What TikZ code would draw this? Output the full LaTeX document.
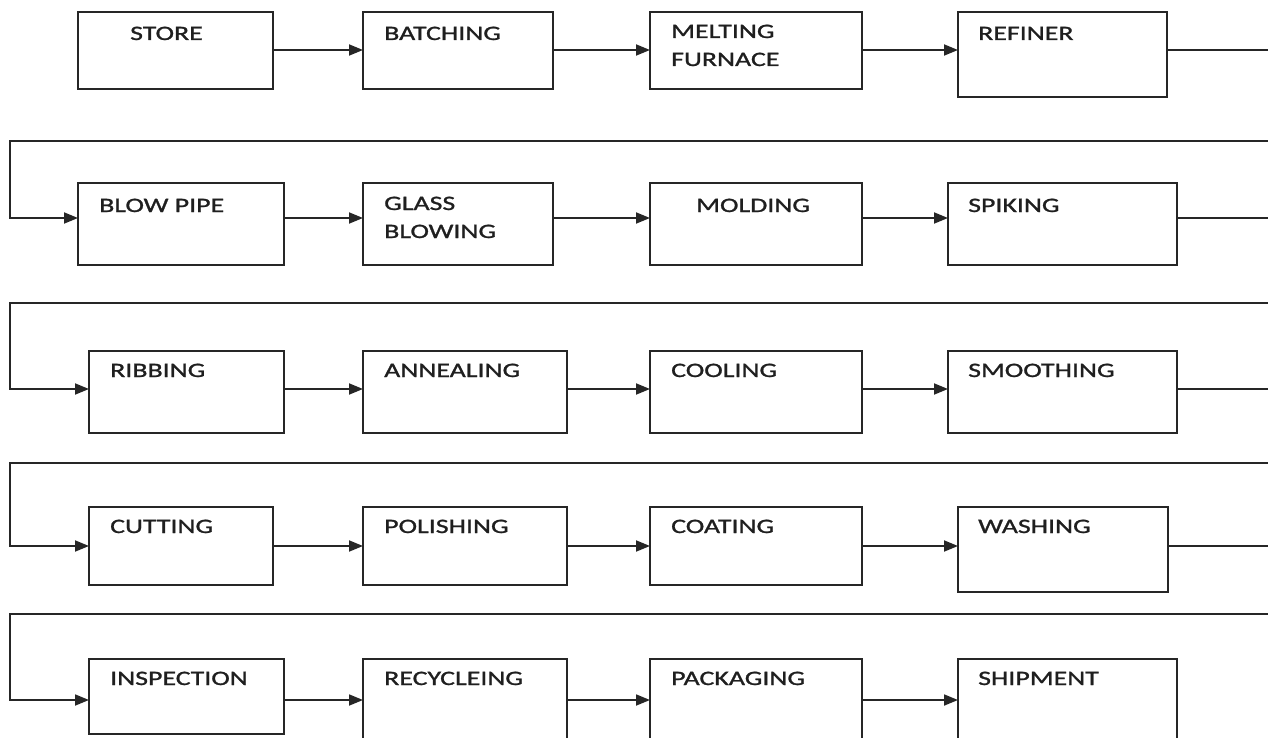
\documentclass[tikz,border=0pt]{standalone}
\usepackage{fontspec}
\setmainfont{Carlito}[FakeStretch=1.36, FakeBold=1.2]
\usetikzlibrary{arrows.meta}

\tikzset{
  ink/.style={draw=black!85, line width=1.8pt},
  box/.style={ink, fill=white, inner sep=0pt, outer sep=0pt, anchor=north west},
  lbl/.style={inner sep=0pt, anchor=base west, font=\fontsize{20.5}{24}\selectfont, text=black!88},
  flow/.style={ink, -{Triangle[length=14pt,width=11pt]}},
}
% \stagebox{name}{left}{top}{width}{height}
\newcommand\stagebox[5]{\node[box, minimum width=#4pt, minimum height=#5pt] (#1) at (#2,#3) {};}

\begin{document}
\begin{tikzpicture}[x=1pt, y=-1pt]
  \useasboundingbox (0,0) rectangle (1268,738);
  \fill[white] (0,0) rectangle (1268,738);
  \clip (0,0) rectangle (1268,738);

  % levels of the horizontal flow in each row
  \coordinate (r1) at (0,50);
  \coordinate (r2) at (0,218);
  \coordinate (r3) at (0,389);
  \coordinate (r4) at (0,546);
  \coordinate (r5) at (0,700);
  % turning points of the return lines between rows
  \coordinate (e1) at (1276,141); \coordinate (w1) at (10,141);
  \coordinate (e2) at (1276,303); \coordinate (w2) at (10,303);
  \coordinate (e3) at (1276,463); \coordinate (w3) at (10,463);
  \coordinate (e4) at (1276,614); \coordinate (w4) at (10,614);

  % row 1
  \stagebox{store}{78}{12}{195}{77}
  \stagebox{batch}{363}{12}{190}{77}
  \stagebox{melt}{650}{12}{212}{77}
  \stagebox{refine}{958}{12}{209}{85}
  % row 2
  \stagebox{blow}{78}{183}{206}{82}
  \stagebox{glass}{363}{183}{190}{82}
  \stagebox{mold}{650}{183}{212}{82}
  \stagebox{spike}{948}{183}{229}{82}
  % row 3
  \stagebox{rib}{89}{351}{195}{82}
  \stagebox{anneal}{363}{351}{204}{82}
  \stagebox{cool}{650}{351}{212}{82}
  \stagebox{smooth}{948}{351}{229}{82}
  % row 4
  \stagebox{cut}{89}{507}{184}{78}
  \stagebox{polish}{363}{507}{204}{78}
  \stagebox{coat}{650}{507}{212}{78}
  \stagebox{wash}{958}{507}{210}{85}
  % row 5
  \stagebox{insp}{89}{659}{195}{75}
  \stagebox{recyc}{363}{659}{204}{100}
  \stagebox{pack}{650}{659}{212}{100}
  \stagebox{ship}{958}{659}{219}{100}

  % labels
  \node[lbl] (t-store)  at (130,40) {STORE};
  \node[lbl] (t-batch)  at (384,40) {BATCHING};
  \node[lbl] (t-melt1)  at (671,38) {MELTING};
  \node[lbl] (t-melt2)  at (671,66) {FURNACE};
  \node[lbl] (t-refine) at (978,40) {REFINER};

  \node[lbl] (t-blow)   at (99,212)  {BLOW PIPE};
  \node[lbl] (t-glass1) at (384,210) {GLASS};
  \node[lbl] (t-glass2) at (384,238) {BLOWING};
  \node[lbl] (t-mold)   at (696,212) {MOLDING};
  \node[lbl] (t-spike)  at (968,212) {SPIKING};

  \node[lbl] (t-rib)    at (110,377) {RIBBING};
  \node[lbl] (t-anneal) at (384,377) {ANNEALING};
  \node[lbl] (t-cool)   at (671,377) {COOLING};
  \node[lbl] (t-smooth) at (968,377) {SMOOTHING};

  \node[lbl] (t-cut)    at (110,533) {CUTTING};
  \node[lbl] (t-polish) at (384,533) {POLISHING};
  \node[lbl] (t-coat)   at (671,533) {COATING};
  \node[lbl] (t-wash)   at (978,533) {WASHING};

  \node[lbl] (t-insp)   at (110,685) {INSPECTION};
  \node[lbl] (t-recyc)  at (384,685) {RECYCLEING};
  \node[lbl] (t-pack)   at (671,685) {PACKAGING};
  \node[lbl] (t-ship)   at (978,685) {SHIPMENT};

  % flow within rows
  \draw[flow] (store.east |- r1) -- (batch.west |- r1);
  \draw[flow] (batch.east |- r1) -- (melt.west |- r1);
  \draw[flow] (melt.east |- r1) -- (refine.west |- r1);

  \draw[flow] (blow.east |- r2) -- (glass.west |- r2);
  \draw[flow] (glass.east |- r2) -- (mold.west |- r2);
  \draw[flow] (mold.east |- r2) -- (spike.west |- r2);

  \draw[flow] (rib.east |- r3) -- (anneal.west |- r3);
  \draw[flow] (anneal.east |- r3) -- (cool.west |- r3);
  \draw[flow] (cool.east |- r3) -- (smooth.west |- r3);

  \draw[flow] (cut.east |- r4) -- (polish.west |- r4);
  \draw[flow] (polish.east |- r4) -- (coat.west |- r4);
  \draw[flow] (coat.east |- r4) -- (wash.west |- r4);

  \draw[flow] (insp.east |- r5) -- (recyc.west |- r5);
  \draw[flow] (recyc.east |- r5) -- (pack.west |- r5);
  \draw[flow] (pack.east |- r5) -- (ship.west |- r5);

  % return lines from the end of one row to the start of the next
  \draw[flow] (refine.east |- r1) -| (e1) -- (w1) |- (blow.west |- r2);
  \draw[flow] (spike.east |- r2) -| (e2) -- (w2) |- (rib.west |- r3);
  \draw[flow] (smooth.east |- r3) -| (e3) -- (w3) |- (cut.west |- r4);
  \draw[flow] (wash.east |- r4) -| (e4) -- (w4) |- (insp.west |- r5);
\end{tikzpicture}
\end{document}
